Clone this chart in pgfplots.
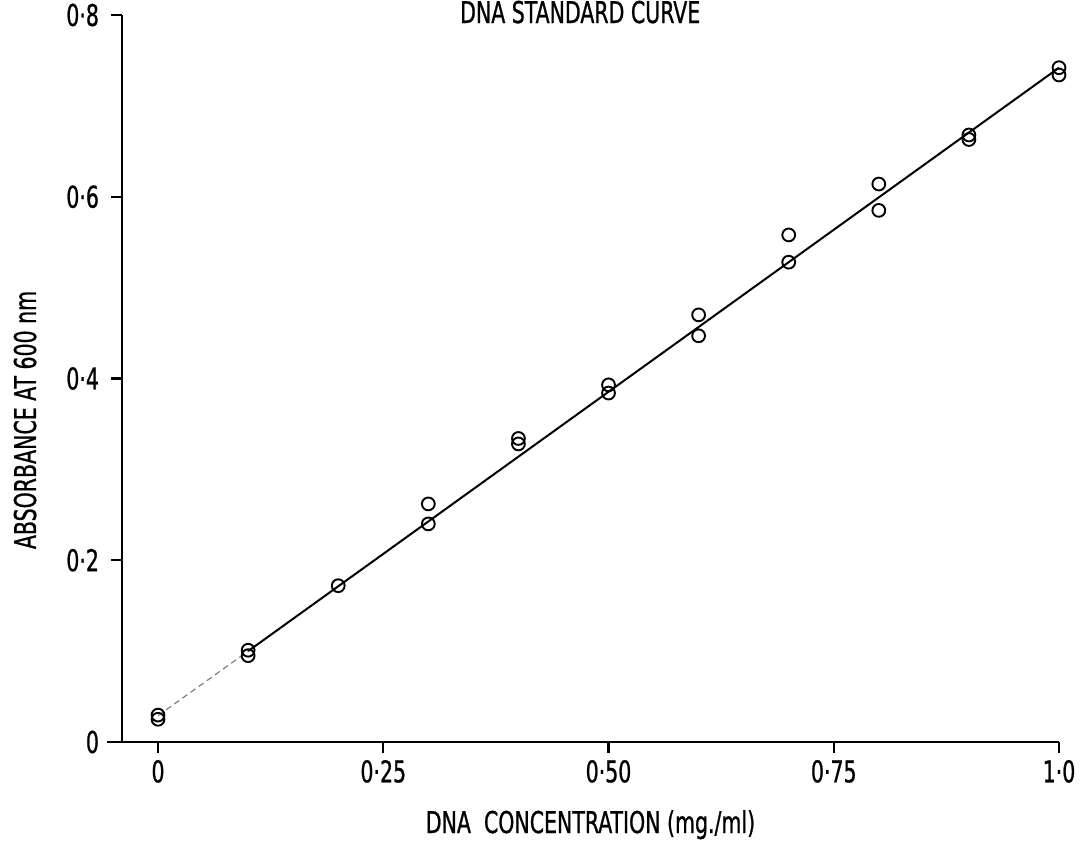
\documentclass[border=0pt]{standalone}
\usepackage{fontspec}
\setmainfont{DejaVu Sans Condensed}[FakeStretch=0.76, FakeBold=0.8]
\usepackage{pgfplots}
\pgfplotsset{compat=1.18}

\begin{document}
\begin{tikzpicture}[font=\fontsize{15pt}{18pt}\selectfont]
\begin{axis}[
  scale only axis, width=468.5pt, height=363.5pt,
  xmin=-0.04, xmax=1.0, ymin=0, ymax=0.8,
  axis lines=left, axis line style={-, line width=1.1pt},
  xtick={0,0.25,0.5,0.75,1}, xticklabels={0,0·25,0·50,0·75,1·0},
  ytick={0,0.2,0.4,0.6,0.8}, yticklabels={0,0·2,0·4,0·6,0·8},
  tick align=outside, major tick length=5.5pt,
  tick style={line width=1.1pt, black},
  yticklabel style={xshift=-2.5pt},
  every axis x label/.style={at={(axis description cs:0.5,0)}, anchor=base, yshift=-45.5pt},
  every axis y label/.style={at={(axis description cs:0,0.443)}, rotate=90, anchor=base, yshift=43pt},
  xlabel={DNA\ \ CONCENTRATION (mg./ml)},
  ylabel={ABSORBANCE AT 600 nm},
  clip=false,
]
\addplot[densely dashed, gray, line width=0.6pt] coordinates {(0,0.029)(0.1,0.100)};
\addplot[black, line width=1pt] coordinates {(0.1,0.100)(1.0,0.742)};
\addplot[only marks, mark=o, mark size=3.2pt, mark options={line width=0.95pt, black}] coordinates {
(0,0.0296)(0,0.025)(0.1,0.101)(0.1,0.095)(0.2,0.172)(0.3,0.262)(0.3,0.240)
(0.4,0.334)(0.4,0.328)(0.5,0.393)(0.5,0.384)(0.6,0.470)(0.6,0.447)
(0.7,0.558)(0.7,0.528)(0.8,0.614)(0.8,0.585)(0.9,0.668)(0.9,0.663)
(1.0,0.742)(1.0,0.734)};
\draw[line width=1.1pt] (axis cs:-0.057,0) -- (axis cs:-0.04,0);
\node[anchor=base] at (axis description cs:0.489,1) [yshift=-4pt] {DNA STANDARD CURVE};
\end{axis}
\pgfresetboundingbox
\path (current axis.south west) ++(-61pt,-53.5pt) rectangle ++(540pt,424.5pt);
\end{tikzpicture}
\end{document}
